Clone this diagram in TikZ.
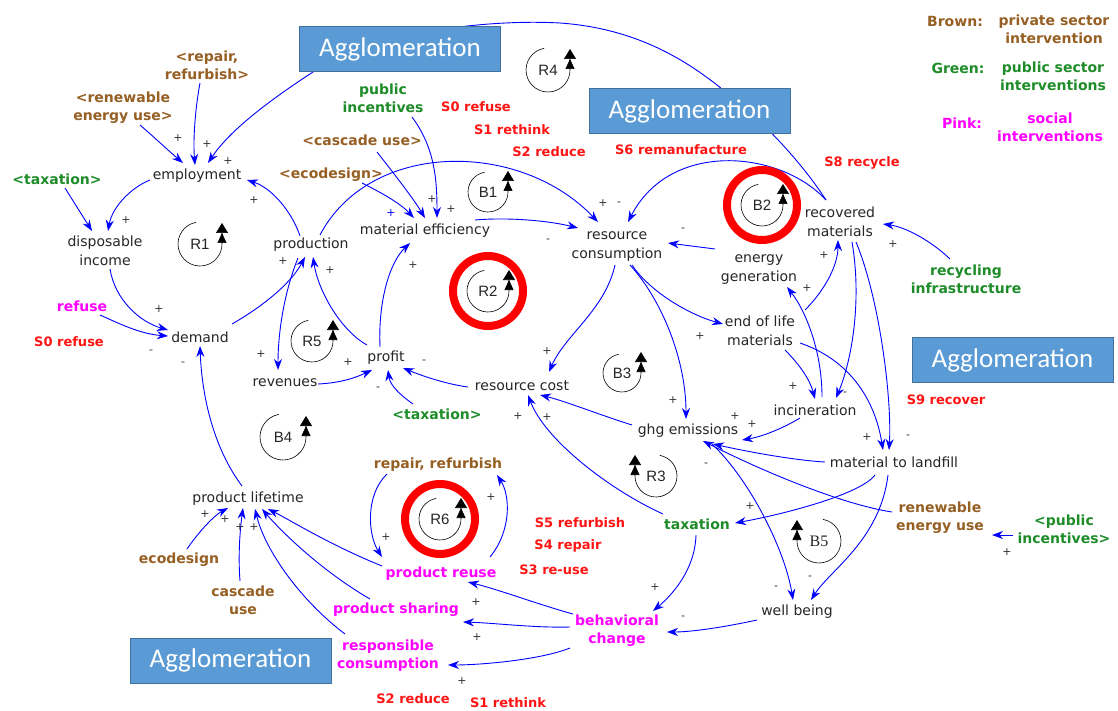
\documentclass[tikz,border=0pt]{standalone}
\usepackage{fontspec}
\setmainfont{DejaVu Sans}
\newfontfamily\aggfont{Carlito}
\newfontfamily\arialfont{Liberation Sans}
\newfontfamily\timesfont{Liberation Serif}
\usetikzlibrary{arrows.meta,calc}

\definecolor{cldbrown}{RGB}{150,95,35}
\definecolor{cldgreen}{RGB}{30,140,40}
\definecolor{cldpink}{RGB}{255,0,255}
\definecolor{cldred}{RGB}{255,20,20}
\definecolor{cldblue}{RGB}{0,0,255}
\definecolor{boxfill}{RGB}{91,155,213}
\definecolor{boxline}{RGB}{65,113,156}

\tikzset{
  var/.style={font=\fontsize{14}{19}\selectfont, text=black!85, align=center, inner sep=1pt},
  lblbase/.style={font=\fontsize{14}{18}\selectfont\bfseries, align=center, inner sep=1pt},
  brownlbl/.style={lblbase, text=cldbrown},
  greenlbl/.style={lblbase, text=cldgreen},
  pinklbl/.style={lblbase, text=cldpink},
  redlbl/.style={font=\fontsize{13}{16}\selectfont\bfseries, text=cldred, inner sep=1pt},
  sign/.style={font=\fontsize{11}{11}\selectfont, text=black!80, inner sep=0pt},
  looplbl/.style={font=\arialfont\fontsize{15}{15}\selectfont, text=black!85, inner sep=0pt},
  loopline/.style={black, line width=0.6pt,
    -{Triangle[length=10pt,width=9pt]Triangle[length=10pt,width=12pt]}},
  ring/.style={draw=red, line width=8pt},
  arr/.style={cldblue, line width=0.9pt, -{Stealth[length=11pt,width=8pt]}},
  aggbox/.style={draw=boxline, fill=boxfill, line width=1pt, minimum width=201pt,
    minimum height=45pt, inner sep=0pt, text=white,
    font=\aggfont\fontsize{27}{27}\selectfont},
}

% loop marker, arrow on the right side pointing up
\newcommand\cldloopccw[4]{%
  \node[looplbl] (#1) at #2 {#3};
  \draw[loopline] ($(#1)+(100:#4)$) arc[start angle=100,end angle=360,radius=#4] -- ++(0,-21);
}
% loop marker, arrow on the left side pointing up
\newcommand\cldloopcw[4]{%
  \node[looplbl] (#1) at #2 {#3};
  \draw[loopline] ($(#1)+(80:#4)$) arc[start angle=80,end angle=-180,radius=#4] -- ++(0,-21);
}

\begin{document}
\begin{tikzpicture}[x=1pt,y=-1pt]
\useasboundingbox (0,0) rectangle (1118,711);
\fill[white] (0,0) rectangle (1118,711);

% ---------- variables ----------
\node[var] (emp)    at (197,176) {employment};
\node[var] (disp)   at (105,251) {disposable\\income};
\node[var] (dem)    at (200,337) {demand};
\node[var] (prod)   at (311,245) {production};
\node[var] (meff)   at (425,231) {material efficiency};
\node[var] (rcons)  at (617,247) {resource\\consumption};
\node[var] (egen)   at (759,270) {energy\\generation};
\node[var] (recm)   at (840,222) {recovered\\materials};
\node[var] (eol)    at (760,331) {end of life\\materials};
\node[var] (incin)  at (815,410) {incineration};
\node[var] (ghg)    at (688,431) {ghg emissions};
\node[var] (landf)  at (894,462) {material to landfill};
\node[var] (rcost)  at (522,386) {resource cost};
\node[var] (profit) at (386,358) {profit};
\node[var] (rev)    at (285,383) {revenues};
\node[var] (plife)  at (248,499) {product lifetime};
\node[var] (wellb)  at (797,612) {well being};

% ---------- interventions ----------
\node[brownlbl] (repairA) at (207,65)  {<repair,\\refurbish>};
\node[brownlbl] (renewA)  at (123,108) {<renewable\\energy use>};
\node[greenlbl] (taxA)    at (57,179)  {<taxation>};
\node[greenlbl] (pubincA) at (383,98)  {public\\incentives};
\node[brownlbl] (cascA)   at (362,140) {<cascade use>};
\node[brownlbl] (ecoA)    at (331,175) {<ecodesign>};
\node[greenlbl] (recinf)  at (966,279) {recycling\\infrastructure};
\node[brownlbl] (renewB)  at (940,518) {renewable\\energy use};
\node[greenlbl] (pubincB) at (1064,529) {<public\\incentives>};
\node[greenlbl] (taxB)    at (697,524) {taxation};
\node[pinklbl]  (behav)   at (617,631) {behavioral\\change};
\node[pinklbl]  (reuse)   at (441,574) {product reuse};
\node[pinklbl]  (share)   at (396,610) {product sharing};
\node[pinklbl]  (resp)    at (388,656) {responsible\\consumption};
\node[brownlbl] (repairB) at (438,465) {repair, refurbish};
\node[brownlbl] (ecoB)    at (179,560) {ecodesign};
\node[brownlbl] (cascB)   at (243,600) {cascade\\use};
\node[pinklbl]  (refuse)  at (82,306)  {refuse};
\node[greenlbl] (taxC)    at (437,414) {<taxation>};

% ---------- strategies ----------
\node[redlbl] (s0a) at (476,107) {S0 refuse};
\node[redlbl] (s1a) at (512,130) {S1 rethink};
\node[redlbl] (s2a) at (549,152) {S2 reduce};
\node[redlbl] (s6)  at (681,150) {S6 remanufacture};
\node[redlbl] (s8)  at (862,163) {S8 recycle};
\node[redlbl] (s9)  at (946,400) {S9 recover};
\node[redlbl] (s5)  at (580,523) {S5 refurbish};
\node[redlbl] (s4)  at (568,546) {S4 repair};
\node[redlbl] (s3)  at (554,570) {S3 re-use};
\node[redlbl] (s2b) at (413,699) {S2 reduce};
\node[redlbl] (s1b) at (508,703) {S1 rethink};
\node[redlbl] (s0b) at (69,342)  {S0 refuse};

% ---------- legend ----------
\node[brownlbl] (legb)  at (955,22)   {Brown:};
\node[brownlbl] (legbt) at (1054,29)  {private sector\\intervention};
\node[greenlbl] (legg)  at (958,68)   {Green:};
\node[greenlbl] (leggt) at (1053,76)  {public sector\\interventions};
\node[pinklbl]  (legp)  at (962,123)  {Pink:};
\node[pinklbl]  (legpt) at (1050,127) {social\\interventions};

% ---------- causal links ----------
\draw[arr] ($(renewA)+(17,17)$) .. controls (155,138) and (170,152) .. ($(emp)+(-14,-13)$);
\draw[arr] ($(repairA)+(-7,18)$) .. controls (195,110) and (193,140) .. ($(emp)+(-2,-11)$);
\draw[arr] ($(recm)+(-14,-22)$) .. controls (800,160) and (760,118) .. (722,89)
   .. controls (680,55) and (630,28) .. (560,23)
   .. controls (470,18) and (350,40) .. (313,72)
   .. controls (270,100) and (230,130) .. ($(emp)+(11,-13)$);
\draw[arr] ($(prod)+(-11,-9)$) .. controls (292,212) and (272,188) .. ($(emp)+(50,4)$);
\draw[arr] ($(emp)+(-47,4)$) .. controls (130,188) and (112,208) .. ($(disp)+(3,-20)$);
\draw[arr] ($(taxA)+(8,9)$) -- ($(disp)+(-13,-20)$);
\draw[arr] ($(disp)+(5,18)$) .. controls (115,300) and (140,322) .. ($(dem)+(-32,-7)$);
\draw[arr] ($(refuse)+(18,9)$) .. controls (118,323) and (140,334) .. ($(dem)+(-32,-1)$);
\draw[arr] ($(plife)+(-6,-13)$) .. controls (215,450) and (202,400) .. ($(dem)+(0,9)$);
\draw[arr] ($(dem)+(32,-13)$) .. controls (260,308) and (290,285) .. ($(prod)+(-6,12)$);
\draw[arr] ($(prod)+(-13,13)$) .. controls (285,290) and (278,330) .. ($(rev)+(-7,-13)$);
\draw[arr] ($(profit)+(-19,-13)$) .. controls (340,330) and (318,290) .. ($(prod)+(2,12)$);
\draw[arr] ($(rev)+(33,1)$) .. controls (340,383) and (355,378) .. ($(profit)+(-14,12)$);
\draw[arr] ($(rcost)+(-54,1)$) .. controls (445,384) and (420,375) .. ($(profit)+(17,10)$);
\draw[arr] ($(taxC)+(-24,-10)$) .. controls (400,395) and (390,385) .. ($(profit)+(2,12)$);
\draw[arr] ($(profit)+(-6,-11)$) .. controls (378,300) and (390,262) .. ($(meff)+(-15,12)$);
\draw[arr] ($(prod)+(9,-10)$) .. controls (370,140) and (520,140) .. ($(rcons)+(-19,-25)$);
\draw[arr] ($(cascA)+(15,12)$) .. controls (395,175) and (413,198) .. ($(meff)+(0,-13)$);
\draw[arr] ($(ecoA)+(31,8)$) .. controls (380,192) and (400,203) .. ($(meff)+(-11,-13)$);
\draw[arr] ($(pubincA)+(29,19)$) .. controls (435,148) and (437,180) .. ($(meff)+(12,-13)$);
\draw[arr] ($(meff)+(50,-11)$) .. controls (510,217) and (550,221) .. ($(rcons)+(-39,-19)$);
\draw[arr] ($(recm)+(-14,-22)$) .. controls (780,150) and (670,140) .. ($(rcons)+(11,-25)$);
\draw[arr] ($(egen)+(-44,-21)$) -- ($(rcons)+(51,-4)$);
\draw[arr] ($(rcons)+(15,18)$) .. controls (650,292) and (690,315) .. ($(eol)+(-37,-7)$);
\draw[arr] ($(rcons)+(13,18)$) .. controls (662,300) and (686,360) .. ($(ghg)+(-2,-12)$);
\draw[arr] ($(rcons)+(-2,18)$) .. controls (605,310) and (565,335) .. ($(rcost)+(27,-14)$);
\draw[arr] ($(ghg)+(-56,-6)$) .. controls (600,415) and (565,401) .. ($(rcost)+(18,9)$);
\draw[arr] ($(taxB)+(-34,-10)$) .. controls (610,490) and (545,440) .. ($(rcost)+(6,9)$);
\draw[arr] ($(eol)+(45,-21)$) .. controls (825,290) and (838,265) .. ($(recm)+(-2,18)$);
\draw[arr] ($(incin)+(7,-13)$) .. controls (822,350) and (805,310) .. ($(egen)+(28,17)$);
\draw[arr] ($(recinf)+(-16,-20)$) .. controls (930,240) and (905,227) .. ($(recm)+(43,2)$);
\draw[arr] ($(recm)+(12,20)$) .. controls (862,300) and (852,360) .. ($(incin)+(21,-12)$);
\draw[arr] ($(recm)+(16,20)$) .. controls (880,300) and (892,400) .. ($(landf)+(-5,-12)$);
\draw[arr] ($(eol)+(25,19)$) .. controls (800,365) and (810,380) .. ($(incin)+(0,-11)$);
\draw[arr] ($(eol)+(40,12)$) .. controls (850,360) and (875,400) .. ($(landf)+(-11,-12)$);
\draw[arr] ($(incin)+(-15,8)$) .. controls (780,430) and (760,437) .. ($(ghg)+(54,9)$);
\draw[arr] ($(landf)+(-69,0)$) .. controls (790,460) and (740,450) .. ($(ghg)+(25,13)$);
\draw[arr] ($(renewB)+(-48,-6)$) .. controls (840,504) and (760,470) .. ($(ghg)+(15,10)$);
\draw[arr] ($(ghg)+(24,13)$) .. controls (750,480) and (785,550) .. ($(wellb)+(-4,-12)$);
\draw[arr] ($(landf)+(-6,13)$) .. controls (880,540) and (830,570) .. ($(wellb)+(14,-12)$);
\draw[arr] ($(landf)+(-19,13)$) .. controls (860,495) and (780,515) .. ($(taxB)+(38,-1)$);
\draw[arr] ($(pubincB)+(-51,6)$) -- ($(renewB)+(52,17)$);
\draw[arr] ($(taxB)+(-1,11)$) .. controls (695,570) and (672,595) .. ($(behav)+(36,-20)$);
\draw[arr] ($(wellb)+(-40,8)$) .. controls (720,628) and (690,632) .. ($(behav)+(50,1)$);
\draw[arr] ($(behav)+(-44,-17)$) .. controls (540,605) and (500,590) .. ($(reuse)+(27,8)$);
\draw[arr] ($(behav)+(-47,-4)$) .. controls (535,628) and (495,623) .. ($(share)+(67,12)$);
\draw[arr] ($(behav)+(-47,17)$) .. controls (540,660) and (480,665) .. ($(resp)+(60,9)$);
\draw[arr] ($(reuse)+(49,-17)$) .. controls (512,530) and (510,495) .. ($(repairB)+(59,10)$);
\draw[arr] ($(repairB)+(-51,9)$) .. controls (365,495) and (368,535) .. ($(reuse)+(-59,-17)$);
\draw[arr] ($(reuse)+(-59,-8)$) .. controls (330,545) and (290,520) .. ($(plife)+(20,10)$);
\draw[arr] ($(share)+(-26,-11)$) .. controls (320,570) and (280,530) .. ($(plife)+(14,10)$);
\draw[arr] ($(resp)+(-43,-22)$) .. controls (300,600) and (265,550) .. ($(plife)+(7,10)$);
\draw[arr] ($(ecoB)+(8,-11)$) .. controls (200,530) and (215,515) .. ($(plife)+(-20,9)$);
\draw[arr] ($(cascB)+(-3,-19)$) .. controls (238,555) and (240,530) .. ($(plife)+(-5,9)$);

% ---------- link polarities ----------
\node[sign] (p1)  at (178,138) {+};
\node[sign] (p2)  at (207,144) {+};
\node[sign] (p3)  at (228,161) {+};
\node[sign] (p4)  at (254,200) {+};
\node[sign] (p5)  at (126,220) {+};
\node[sign] (p6)  at (159,309) {+};
\node[sign] (p7)  at (151,352) {-};
\node[sign] (p8)  at (183,364) {-};
\node[sign] (p9)  at (283,261) {+};
\node[sign] (p10) at (330,270) {+};
\node[sign] (p11) at (261,354) {+};
\node[sign] (p12) at (348,362) {+};
\node[sign] (p13) at (424,362) {-};
\node[sign] (p14) at (378,389) {-};
\node[sign] (p15) at (413,265) {+};
\node[sign] (p16) at (432,199) {+};
\node[sign] (p17) at (451,209) {+};
\node[sign,text=cldblue] (p18) at (391,213) {+};
\node[sign] (p19) at (548,241) {-};
\node[sign] (p20) at (603,203) {+};
\node[sign] (p21) at (619,204) {-};
\node[sign] (p22) at (683,230) {-};
\node[sign] (p23) at (700,336) {+};
\node[sign] (p24) at (673,400) {+};
\node[sign] (p25) at (547,351) {+};
\node[sign] (p26) at (518,416) {+};
\node[sign] (p27) at (547,417) {+};
\node[sign] (p28) at (824,255) {+};
\node[sign] (p29) at (807,288) {+};
\node[sign] (p30) at (893,244) {+};
\node[sign] (p31) at (793,386) {+};
\node[sign] (p32) at (845,394) {-};
\node[sign] (p33) at (867,437) {+};
\node[sign] (p34) at (908,437) {-};
\node[sign] (p35) at (752,424) {+};
\node[sign] (p36) at (735,416) {+};
\node[sign] (p37) at (706,465) {-};
\node[sign] (p38) at (750,506) {+};
\node[sign] (p39) at (776,588) {-};
\node[sign] (p40) at (810,578) {-};
\node[sign] (p41) at (655,587) {+};
\node[sign] (p42) at (683,618) {-};
\node[sign] (p43) at (476,602) {+};
\node[sign] (p44) at (477,637) {+};
\node[sign] (p45) at (462,681) {+};
\node[sign] (p46) at (491,497) {+};
\node[sign] (p47) at (386,537) {+};
\node[sign] (p48) at (225,519) {+};
\node[sign] (p49) at (240,527) {+};
\node[sign] (p50) at (254,527) {+};
\node[sign] (p51) at (205,514) {+};
\node[sign] (p52) at (1007,552) {+};

% ---------- loop markers ----------
\draw[ring] (488,291) circle[radius=35pt];
\draw[ring] (762,205) circle[radius=35pt];
\draw[ring] (440,519) circle[radius=35pt];
\cldloopccw{lR1}{(200,244)}{R1}{22pt}
\cldloopccw{lR4}{(548,70)}{R4}{22pt}
\cldloopccw{lB1}{(488,192)}{B1}{20pt}
\cldloopccw{lB2}{(762,205)}{B2}{21pt}
\cldloopccw{lR2}{(488,291)}{R2}{21pt}
\cldloopccw{lR5}{(312,341)}{R5}{21pt}
\cldloopccw{lB3}{(622,373)}{B3}{19pt}
\cldloopccw{lB4}{(283,437)}{B4}{23pt}
\cldloopccw{lR6}{(440,519)}{R6}{21pt}
\cldloopcw{lR3}{(656,476)}{R3}{21pt}
\node[looplbl,font=\timesfont\fontsize{16}{16}\selectfont] (lB5) at (819,541) {B5};
\draw[loopline] ($(lB5)+(80:22pt)$) arc[start angle=80,end angle=-180,radius=22pt] -- ++(0,-21);

% ---------- agglomeration boxes ----------
\node[aggbox] (agg1) at (400,49)    {Agglomeration};
\node[aggbox] (agg2) at (689.5,111) {Agglomeration};
\node[aggbox] (agg3) at (1012.5,360){Agglomeration};
\node[aggbox] (agg4) at (230.5,660.5){Agglomeration};

\end{tikzpicture}
\end{document}
